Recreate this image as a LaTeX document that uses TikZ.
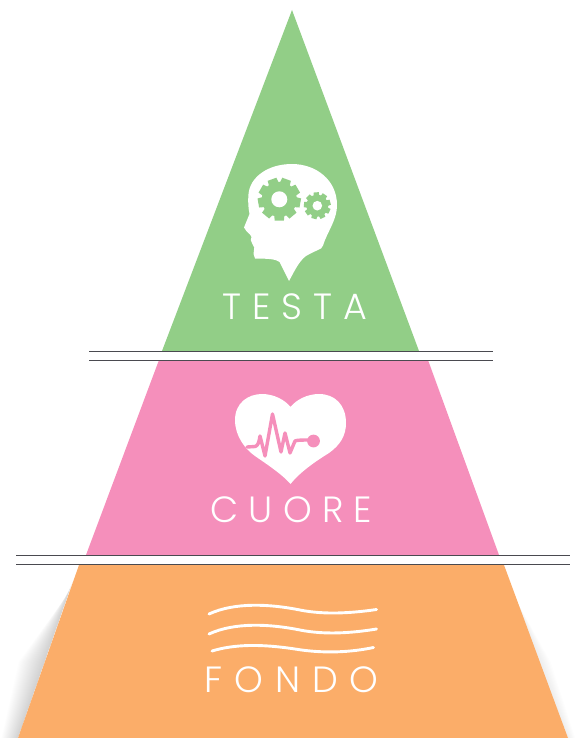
\documentclass[tikz,border=0pt]{standalone}
\usepackage{fontspec}
\setmainfont{Poppins Light}
\newfontfamily\labT{Poppins Light}[LetterSpace=30]
\newfontfamily\labC{Poppins Light}[LetterSpace=28]
\newfontfamily\labF{Poppins Light}[LetterSpace=33]
\usetikzlibrary{calc}
\definecolor{gr}{HTML}{92CE87}
\definecolor{pk}{HTML}{F58FBB}
\definecolor{og}{HTML}{FBAD69}
\definecolor{rl}{HTML}{4A4A50}
\tikzset{
  band/.style={draw=none},
  rulepair/.style={draw=rl,line width=1pt},
  lab/.style={text=white,inner sep=0pt,anchor=center},
  wave/.style={draw=white,line width=2.9pt,line cap=round},
  pulse/.style={draw=pk,line width=3.4pt,line join=round,line cap=round},
}
\begin{document}
\begin{tikzpicture}[x=1pt,y=-1pt]
\useasboundingbox (0,0) rectangle (578,738);
% shadow of the lowest band
\foreach \i in {1,...,22}{
  \fill[black,opacity=.0095] ({74-\i*.25},{578+\i*.7}) -- (18,738) -- ({18-\i*.75},738) -- ({44-\i*1.15},662) -- cycle;
}
\foreach \i in {1,...,8}{
  \fill[black,opacity=.006] (516,600) -- (568,738) -- ({568+\i*.9},738) -- ({541+\i*1.2},662) -- cycle;
}
% bands
\fill[gr,band] (292,10) -- (419,351) -- (162,351) -- cycle;
\fill[pk,band] (159,360) -- (428,360) -- (499,555) -- (86,555) -- cycle;
\fill[og,band] (79,565) -- (504,565) -- (568,738) -- (18,738) -- cycle;
% rules
\draw[rulepair] (89,351) -- (493,351) (89,360) -- (493,360);
\draw[rulepair] (16,555.5) -- (570,555.5) (16,564.5) -- (570,564.5);
% head
\fill[white] (289,281)
  -- (279.5,262)
  .. controls (276,259) and (268,258.6) .. (255,258.5)
  -- (253.5,254) -- (254.3,247.5)
  .. controls (252.5,245) and (252,243) .. (250.8,240)
  -- (251.5,237) -- (250,234.5)
  .. controls (248,232.5) and (245,230.5) .. (244,227.5)
  -- (249.5,214)
  .. controls (248,207) and (248,200) .. (248.5,194)
  .. controls (250,177) and (268,164) .. (292,164)
  .. controls (316,164) and (337,180) .. (337,205)
  .. controls (337,218) and (330,228) .. (325,240)
  .. controls (323,245) and (323,247) .. (321,248.5)
  .. controls (316,251) and (311,253) .. (306,256)
  .. controls (299,261) and (294,272) .. (289,281) -- cycle;
% gears
\foreach \k in {0,...,8}{
  \fill[gr,rotate around={\k*40+20:(279.3,199.3)}] (274.7,178) -- (283.9,178) -- (285,190) -- (273.6,190) -- cycle;
}
\fill[gr] (279.3,199.3) circle[radius=17.5];
\fill[white] (279.3,199.3) circle[radius=8];
\foreach \k in {0,...,8}{
  \fill[gr,rotate around={\k*40+5:(317.3,205.7)}] (314.7,192.3) -- (319.9,192.3) -- (320.6,200) -- (314,200) -- cycle;
}
\fill[gr] (317.3,205.7) circle[radius=11];
\fill[white] (317.3,205.7) circle[radius=4.8];
% heart
\fill[white] (290.5,484)
  .. controls (282,474) and (265,463) .. (255,456)
  .. controls (245,449) and (235,436) .. (235,420)
  .. controls (235,403) and (248,394) .. (262,394)
  .. controls (274,394) and (285,400) .. (290.5,407)
  .. controls (296,400) and (307,394) .. (319,394)
  .. controls (335,394) and (346,405) .. (346,423)
  .. controls (346,436) and (340,445) .. (329,453)
  .. controls (316,461) and (300,472) .. (290.5,484) -- cycle;
\draw[pulse] (247,447) -- (255,446.5) .. controls (258,446) and (259,442) .. (260,436)
  -- (265,456) -- (272.5,414) -- (281,452) -- (285,433) -- (290,453) -- (295,441)
  .. controls (297,440) and (302,440) .. (313,440);
\fill[pk] (313.5,441) circle[radius=6.4];
% waves
\draw[wave] (209,614) .. controls (235,602) and (270,604) .. (300,610) .. controls (325,615) and (352,613) .. (376.5,609.5);
\draw[wave] (209,634) .. controls (235,622) and (270,624) .. (300,630) .. controls (325,635) and (352,633) .. (376.5,629);
\draw[wave] (212,651) .. controls (235,644) and (262,644) .. (295,649) .. controls (325,654) and (352,652) .. (373.5,647.5);
% labels
\node[lab,font=\labT\fontsize{36.5}{37}\selectfont] (testa) at (295,307) {TESTA};
\node[lab,font=\labC\fontsize{36.5}{37}\selectfont] (cuore) at (291.5,510) {CUORE};
\node[lab,font=\labF\fontsize{36.5}{37}\selectfont] (fondo) at (291.5,680) {FONDO};
\end{tikzpicture}
\end{document}
